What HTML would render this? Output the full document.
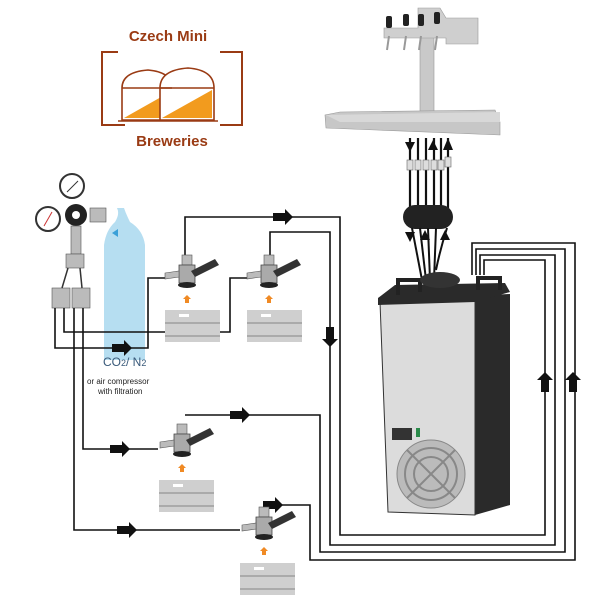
<!DOCTYPE html>
<html><head><meta charset="utf-8"><style>
body{margin:0;background:#fff}
svg{display:block}
text{font-family:"Liberation Sans",sans-serif}
</style></head><body>
<svg width="600" height="600" viewBox="0 0 600 600" xmlns="http://www.w3.org/2000/svg">
<defs>
<g id="ar"><polygon points="-10,-4 2,-4 2,-8 10,0 2,8 2,4 -10,4" fill="#111"/></g>
<g id="keg"><rect x="0" y="0" width="55" height="32" fill="#cfcfcf"/><rect x="0" y="12" width="55" height="2" fill="#aaa"/><rect x="0" y="25" width="55" height="2" fill="#aaa"/><rect x="14" y="4" width="10" height="3" fill="#fff"/></g>
<g id="cpl">
<rect x="-5" y="-38" width="10" height="10" fill="#bbb" stroke="#555" stroke-width="0.6"/>
<path d="M-8,-28 h16 v18 h-16 z" fill="#aaa" stroke="#444" stroke-width="0.8"/>
<ellipse cx="0" cy="-8" rx="9" ry="3" fill="#222"/>
<path d="M-22,-20 l14,-2 v6 l-14,2z" fill="#bbb" stroke="#555" stroke-width="0.6"/>
<path d="M4,-22 L28,-34 l4,6 L8,-16z" fill="#333"/>
<polygon points="0,2 -4,6 -2,6 -2,10 2,10 2,6 4,6" fill="#f08a24"/>
</g>
</defs>

<!-- logo -->
<text x="168" y="41" text-anchor="middle" font-weight="bold" font-size="15" fill="#9a3b14">Czech Mini</text>
<text x="172" y="146" text-anchor="middle" font-weight="bold" font-size="15" fill="#9a3b14">Breweries</text>
<path d="M118,52 H102 V125 H125 M220,125 H242 V52 H220" fill="none" stroke="#9a3b14" stroke-width="2"/>
<g stroke="#9a3b14" stroke-width="1.6">
<path d="M122,120 V88 Q122,72 148,70 Q172,72 172,88 V120Z" fill="#fff"/>
<path d="M124,118 L170,92 V118Z" fill="#f29b1e" stroke="none"/>
<path d="M160,120 V88 Q160,70 188,68 Q214,70 214,88 V120Z" fill="#fff"/>
<path d="M162,118 L212,90 V118Z" fill="#f29b1e" stroke="none"/>
<line x1="122" y1="88" x2="172" y2="88"/><line x1="160" y1="88" x2="214" y2="88"/>
<line x1="118" y1="121" x2="218" y2="121"/>
</g>

<!-- tower -->
<rect x="420" y="20" width="14" height="95" fill="#c9c9c9" stroke="#999" stroke-width="0.6"/>
<path d="M418,8 L440,8 L446,18 H478 V44 H446 V38 H384 V28 H418Z" fill="#cfcfcf" stroke="#999" stroke-width="0.6"/>
<g fill="#222"><rect x="386" y="16" width="6" height="12" rx="2"/><rect x="403" y="14" width="6" height="12" rx="2"/><rect x="418" y="14" width="6" height="12" rx="2"/><rect x="434" y="12" width="6" height="12" rx="2"/></g>
<g stroke="#999" stroke-width="2"><line x1="389" y1="36" x2="387" y2="50"/><line x1="406" y1="36" x2="404" y2="50"/><line x1="421" y1="36" x2="419" y2="50"/><line x1="437" y1="36" x2="435" y2="50"/></g>
<polygon points="340,112 495,110 500,122 500,135 326,128 325,115" fill="#c7c7c7" stroke="#999" stroke-width="0.6"/>
<polygon points="326,115 500,112 500,122 340,122" fill="#d8d8d8"/>
<g stroke="#111" stroke-width="2.2">
<line x1="410" y1="138" x2="410" y2="208"/><line x1="418" y1="138" x2="418" y2="208"/><line x1="426" y1="138" x2="426" y2="208"/><line x1="434" y1="138" x2="434" y2="208"/><line x1="441" y1="138" x2="441" y2="208"/><line x1="448" y1="138" x2="448" y2="208"/>
</g>
<g fill="#ddd" stroke="#666" stroke-width="0.6"><rect x="407" y="160" width="6" height="10"/><rect x="415" y="160" width="6" height="10"/><rect x="423" y="160" width="6" height="10"/><rect x="431" y="160" width="6" height="10"/><rect x="438" y="160" width="6" height="10"/><rect x="445" y="157" width="6" height="10"/></g>
<g fill="#111"><polygon points="405,142 415,142 410,152"/><polygon points="428,150 438,150 433,140"/><polygon points="443,150 453,150 448,138"/></g>
<rect x="403" y="205" width="50" height="24" rx="12" fill="#222"/>
<g stroke="#111" stroke-width="2" fill="none">
<path d="M412,228 L422,280"/><path d="M420,228 L426,280"/><path d="M428,228 L430,280"/><path d="M436,228 L434,280"/><path d="M447,228 Q440,250 436,270"/>
</g>
<g fill="#111"><polygon points="405,232 415,232 410,242"/><polygon points="420,240 430,240 425,230"/><polygon points="440,240 450,240 445,230"/></g>

<!-- right loop lines -->
<g stroke="#111" stroke-width="1.6" fill="none">
<path d="M472,275 V243 H575 V560 H310 V505 H265"/>
<path d="M476,275 V249 H565 V552 H320 V415 H185"/>
<path d="M480,275 V255 H555 V545 H330 V232 H270 V255"/>
<path d="M484,275 V260 H545 V535 H340 V217 H185 V255"/>
</g>
<use href="#ar" transform="translate(573,382) rotate(-90)"/>
<use href="#ar" transform="translate(545,382) rotate(-90)"/>
<use href="#ar" transform="translate(330,337) rotate(90)"/>
<use href="#ar" transform="translate(283,217)"/>
<use href="#ar" transform="translate(240,415)"/>
<use href="#ar" transform="translate(273,505)"/>

<!-- cooler -->
<path d="M382,303 L470,296 L510,294 L510,505 L475,515Z" fill="#2a2a2a"/>
<path d="M380,302 L475,300 L475,515 L388,512Z" fill="#dcdcdc" stroke="#333" stroke-width="1"/>
<path d="M378,298 L395,285 L505,283 L510,292 L475,302 L378,305Z" fill="#2a2a2a"/>
<path d="M398,295 V280 H420 V292" fill="none" stroke="#222" stroke-width="4"/>
<path d="M478,290 V278 H500 V290" fill="none" stroke="#222" stroke-width="4"/>
<ellipse cx="440" cy="280" rx="20" ry="8" fill="#333"/>
<rect x="392" y="428" width="20" height="12" fill="#333"/>
<rect x="416" y="428" width="4" height="9" fill="#2a8a4a"/>
<circle cx="431" cy="474" r="34" fill="#bbb" stroke="#888"/>
<circle cx="431" cy="474" r="26" fill="none" stroke="#888" stroke-width="2"/>
<circle cx="431" cy="474" r="17" fill="none" stroke="#888" stroke-width="2"/>
<path d="M407,450 L455,498 M455,450 L407,498" stroke="#888" stroke-width="2"/>

<!-- CO2 cylinder -->
<path d="M117,208 Q120,214 115,222 Q106,230 104,245 V360 H145 V245 Q143,230 130,222 Q126,214 124,208Z" fill="#b6def1"/>
<polygon points="118,229 112,233 118,237" fill="#3aa0d8"/>
<!-- regulator -->
<circle cx="72" cy="186" r="12" fill="#fff" stroke="#333" stroke-width="2"/>
<circle cx="48" cy="219" r="12" fill="#fff" stroke="#333" stroke-width="2"/>
<line x1="67" y1="192" x2="78" y2="181" stroke="#333"/><line x1="44" y1="226" x2="52" y2="212" stroke="#c33"/>
<circle cx="76" cy="215" r="11" fill="#222"/><circle cx="76" cy="215" r="4" fill="#fff"/>
<rect x="90" y="208" width="16" height="14" fill="#bbb" stroke="#555" stroke-width="0.6"/>
<rect x="71" y="226" width="10" height="28" fill="#bbb" stroke="#555" stroke-width="0.6"/>
<rect x="66" y="254" width="18" height="14" fill="#bbb" stroke="#555" stroke-width="0.6"/>
<rect x="52" y="288" width="18" height="20" fill="#bbb" stroke="#555" stroke-width="0.6"/>
<rect x="72" y="288" width="18" height="20" fill="#bbb" stroke="#555" stroke-width="0.6"/>
<path d="M68,268 L62,288 M80,268 L82,288" stroke="#333" stroke-width="1.5"/>
<g stroke="#111" stroke-width="1.6" fill="none">
<path d="M55,308 V348 H148 V278 H165"/>
<path d="M64,308 V332 H230 V278 H247"/>
<path d="M83,308 V449 H158"/>
<path d="M74,308 V530 H240"/>
</g>
<use href="#ar" transform="translate(122,348)"/>
<use href="#ar" transform="translate(205,332)"/>
<use href="#ar" transform="translate(120,449)"/>
<use href="#ar" transform="translate(127,530)"/>
<text x="103" y="366" font-size="12" fill="#3a5a7a">CO<tspan font-size="9">2</tspan>/ N<tspan font-size="9">2</tspan></text>
<text x="87" y="384" font-size="8" fill="#222">or air compressor</text>
<text x="98" y="394" font-size="8" fill="#222">with filtration</text>

<use href="#cpl" transform="translate(187,293)"/>
<use href="#keg" transform="translate(165,310)"/>
<use href="#cpl" transform="translate(269,293)"/>
<use href="#keg" transform="translate(247,310)"/>
<use href="#cpl" transform="translate(182,462)"/>
<use href="#keg" transform="translate(159,480)"/>
<use href="#cpl" transform="translate(264,545)"/>
<use href="#keg" transform="translate(240,563)"/>
</svg>
</body></html>
